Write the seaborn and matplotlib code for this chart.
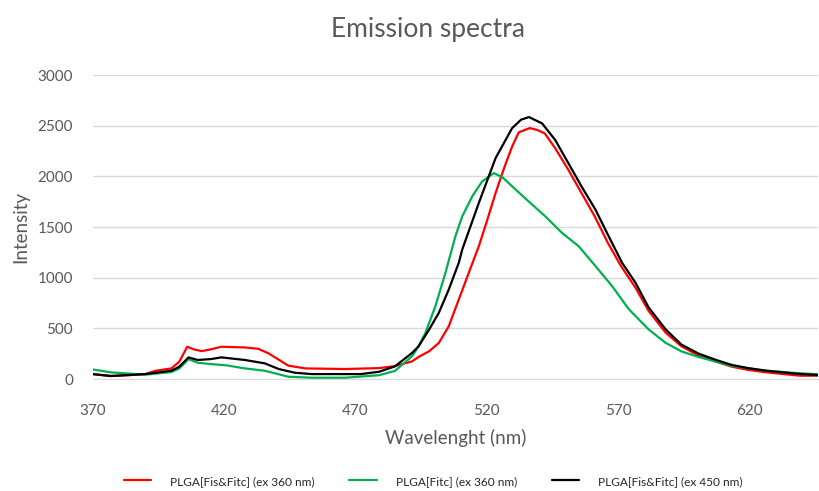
import pandas as pd
import matplotlib
matplotlib.use('Agg')
import matplotlib.pyplot as plt
import seaborn as sns

# data
red_wl = [370, 377, 385, 390, 394, 400, 403, 406, 408.5, 411.5, 415, 419, 428, 433, 437, 441, 444.5, 451, 466, 479,
          485, 491.5, 494, 498, 501.7, 505.5, 509.3, 513.1, 516.9, 520, 523.3, 526.5, 529.6, 532.1, 536.3, 539, 542, 546,
          551, 556, 561, 566, 571, 576.5, 581.5, 588, 594, 600.6, 607, 613, 619.5, 626, 639, 646]
red_int = [49, 30, 40, 49, 82, 105, 171, 319, 293, 276, 293, 319, 312, 299, 253, 188, 132, 105, 99, 108,
           128, 174, 218, 274, 356, 521, 785, 1049, 1309, 1560, 1836, 2080, 2296, 2435, 2477, 2460, 2425, 2277,
           2064, 1835, 1606, 1344, 1115, 902, 673, 457, 323, 230, 173, 123, 90, 67, 33, 33]

green_wl = [370, 377, 390, 400, 403, 406.5, 410, 415, 421, 428, 435.5, 444.5, 453.5, 466, 479, 485, 491.5, 494,
            496.6, 500.4, 504.2, 508, 510.6, 514.4, 518.2, 522.6, 525.8, 529.6, 535.9, 542.2, 548.6, 554.9, 561.3,
            567.6, 574, 581.5, 588, 594, 600.6, 607, 613, 619.5, 626, 639, 646]
green_int = [95, 66, 43, 69, 105, 197, 161, 148, 135, 105, 82, 23, 13, 13, 38, 80, 224, 323,
             455, 719, 1046, 1408, 1605, 1803, 1951, 2033, 1994, 1902, 1753, 1606, 1442, 1311, 1115,
             918, 689, 490, 357, 273, 217, 173, 130, 107, 83, 57, 47]

black_wl = [370, 377, 390, 400, 403, 406.5, 410, 415, 419, 428, 435.5, 440.8, 447, 453.5, 472, 479, 485, 491.5,
            494, 498, 501.7, 505.5, 509.3, 510.6, 516.9, 523.3, 529.6, 533, 536, 541, 546, 551, 556, 561.3, 566.3,
            571.4, 576.5, 581.5, 588, 594, 600.6, 607, 613, 619.5, 626, 639, 646]
black_int = [49, 30, 49, 82, 122, 214, 188, 197, 214, 188, 155, 99, 62, 49, 49, 72, 125, 257,
             323, 488, 653, 884, 1148, 1277, 1737, 2181, 2477, 2560, 2586, 2523, 2359, 2130, 1901, 1672, 1410,
             1148, 951, 707, 490, 340, 250, 190, 140, 107, 83, 50, 40]

labels = ['PLGA[Fis&Fitc] (ex 360 nm)', 'PLGA[Fitc] (ex 360 nm)', 'PLGA[Fis&Fitc] (ex 450 nm)']
colors = ['#FF0000', '#00B050', '#000000']

df = pd.concat([
    pd.DataFrame({'wl': red_wl, 'intensity': red_int, 'sample': labels[0]}),
    pd.DataFrame({'wl': green_wl, 'intensity': green_int, 'sample': labels[1]}),
    pd.DataFrame({'wl': black_wl, 'intensity': black_int, 'sample': labels[2]}),
])

sns.set_style('white')
plt.rcParams['font.family'] = ['Lato', 'DejaVu Sans']
grey = '#595959'

fig = plt.figure(figsize=(8.19, 4.91), dpi=100)
ax = fig.add_axes([0.113, 0.228, 0.886, 0.619])

sns.lineplot(data=df, x='wl', y='intensity', hue='sample', hue_order=labels,
             palette=colors, linewidth=1.6, sort=False, estimator=None, ax=ax)

ax.set_xlim(370, 646)
ax.set_ylim(0, 3000)
ax.set_xticks(range(370, 621, 50))
ax.set_yticks(range(0, 3001, 500))
ax.grid(axis='y', color='#d9d9d9', linewidth=1)
ax.set_axisbelow(True)
for s in ['top', 'right', 'left']:
    ax.spines[s].set_visible(False)
ax.spines['bottom'].set_color('#d9d9d9')
ax.tick_params(axis='both', length=0, labelsize=11, labelcolor=grey)
ax.tick_params(axis='x', pad=18)
ax.tick_params(axis='y', pad=14)

ax.set_xlabel('Wavelenght (nm)', fontsize=13.5, color=grey, labelpad=8)
ax.set_ylabel('Intensity', fontsize=13.5, color=grey, labelpad=6)
fig.text(0.522, 0.94, 'Emission spectra', fontsize=19, color=grey, ha='center', va='center')

handles, lbls = ax.get_legend_handles_labels()
ax.get_legend().remove()
fig.legend(handles, lbls, loc='center', bbox_to_anchor=(0.529, 0.02), ncol=3,
           frameon=False, fontsize=8.6, handlelength=2.3, columnspacing=2.9, handletextpad=1.6)

fig.savefig('out.png', dpi=100)
